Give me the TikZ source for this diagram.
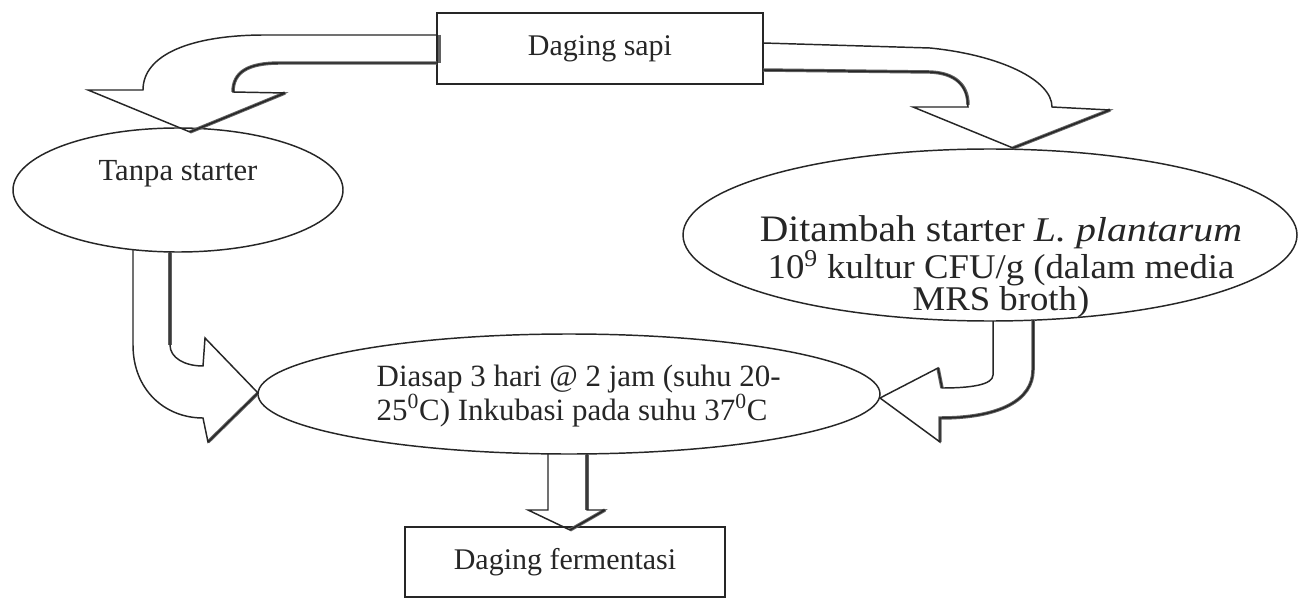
\documentclass[tikz,border=0pt]{standalone}
\usepackage{fontspec}
\setmainfont{Liberation Serif}
\usetikzlibrary{shapes.geometric}
\begin{document}
\begin{tikzpicture}[x=0.75pt,y=-0.75pt,
  outline/.style={draw=black!85, line width=1.1pt, line join=miter},
  shade3d/.style={draw=black!62, line width=2.6pt, line cap=butt},
  oval/.style={ellipse, draw=black!85, line width=1.1pt, inner sep=0pt},
  boxnode/.style={rectangle, draw=black!85, line width=1.1pt, inner sep=0pt},
  txt/.style={font=\fontsize{22.5}{22.5}\selectfont, text=black!85}
]
\useasboundingbox (0,0) rectangle (1301,602);
\fill[white] (0,0) rectangle (1301,602);

% nodes
\node[boxnode, txt, minimum width=244.5pt, minimum height=53.25pt] (sapi) at (600,48.5) {Daging sapi};
\node[oval, minimum width=247.5pt, minimum height=93pt] (tanpa) at (178,190) {};
\node[txt, font=\fontsize{23}{23}\selectfont] (tanpatxt) at (178,174) {Tanpa starter};
\node[oval, minimum width=460.5pt, minimum height=129pt] (tambah) at (990,235) {};
\node[txt, align=center, font=\fontsize{26}{24}\selectfont\addfontfeatures{FakeStretch=1.06}] (tambahtxt) at (1001,267)
  {{\fontsize{28}{24}\selectfont Ditambah starter} {\itshape\addfontfeatures{FakeStretch=1.15}L. plantarum}\\
   10\textsuperscript{9} kultur CFU/g (dalam media\\ MRS broth)};
\node[oval, minimum width=466.5pt, minimum height=90pt] (asap) at (569,394) {};
\node[txt, align=left, anchor=west, font=\fontsize{23.2}{22.5}\selectfont] (asaptxt) at (372,396)
  {Diasap 3 hari @ 2 jam (suhu 20-\\ 25\textsuperscript{0}C) Inkubasi pada suhu 37\textsuperscript{0}C};
\node[boxnode, txt, minimum width=240pt, minimum height=52.5pt] (ferm) at (565,562) {Daging fermentasi};

% top-left block arrow
\draw[shade3d] (439.5,35) -- (439.5,63);
\draw[shade3d] (437,63) -- (280,63) .. controls (248,63) and (233,72) .. (233,92);
\draw[shade3d] (190,132) -- (285,93);
\draw[outline] (437,35) -- (265,35) .. controls (190,35) and (143,55) .. (143,90)
  -- (88,90) -- (190,132) -- (285,93) -- (233,92)
  .. controls (233,72) and (248,63) .. (280,63) -- (437,63);

% top-right block arrow
\draw[shade3d] (763,70) -- (930,72) .. controls (955,73) and (968,85) .. (968,105);
\draw[shade3d] (1013,148) -- (1110,110);
\draw[outline] (763,43) -- (930,48) .. controls (1000,55) and (1052,80) .. (1052,107)
  -- (1110,110) -- (1013,148) -- (913,107) -- (968,107)
  .. controls (968,85) and (955,73) .. (930,72) -- (763,70);

% lower-left block arrow
\draw[shade3d] (170,252) -- (170,345);
\draw[shade3d] (208,442) -- (258,393);
\draw[outline] (133,250) -- (133,345) .. controls (133,390) and (165,418) .. (203,418)
  -- (208,442) -- (258,393) -- (205,338) -- (203,366)
  .. controls (185,366) and (170,358) .. (170,345) -- (170,252);

% lower-right block arrow
\draw[shade3d] (1033,320) -- (1033,370) .. controls (1033,400) and (1000,418) .. (940,418) -- (940,442);
\draw[shade3d] (938,368) -- (942,388);
\draw[outline] (993,321) -- (993,375) .. controls (993,385) and (970,388) .. (942,388)
  -- (938,368) -- (880,398) -- (940,442) -- (940,418)
  .. controls (1000,418) and (1033,400) .. (1033,370) -- (1033,320);

% down arrow
\draw[shade3d] (587,454) -- (587,510);
\draw[shade3d] (570,530) -- (605,510);
\draw[outline] (548,454) -- (548,510) -- (528,510) -- (570,530) -- (605,510) -- (587,510) -- (587,454);
\end{tikzpicture}
\end{document}
